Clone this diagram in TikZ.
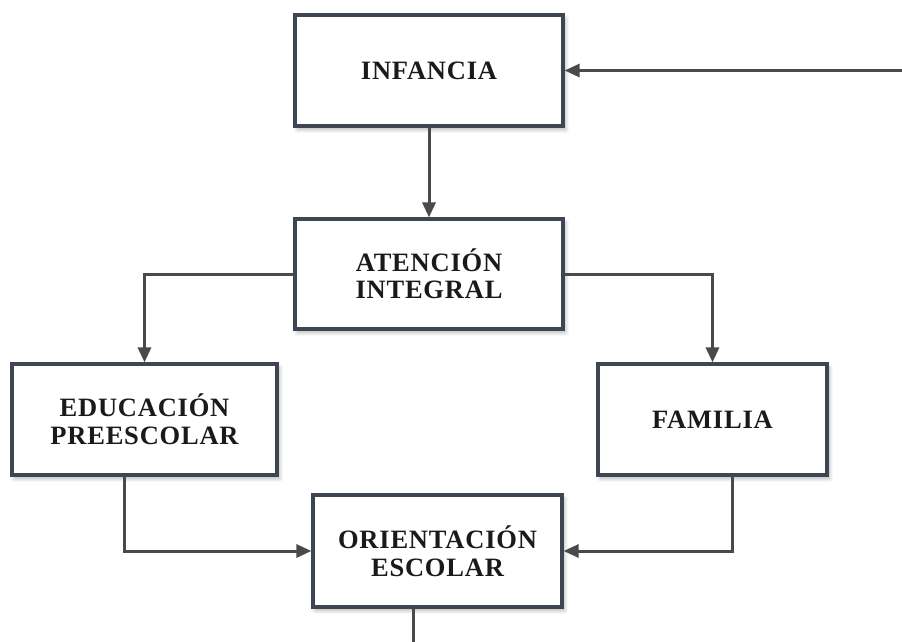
\documentclass[tikz,border=0pt]{standalone}
\usepackage{fontspec}
\setmainfont{Liberation Serif}[LetterSpace=3]
\usetikzlibrary{arrows.meta,shadows.blur,calc}
\definecolor{boxborder}{HTML}{3D4652}
\definecolor{conncol}{HTML}{4A4A4A}
\definecolor{txtcol}{HTML}{1A1A1A}
\tikzset{
  box/.style={draw=boxborder, line width=3.2pt, fill=white, align=center,
    text=txtcol, font=\fontsize{26.5}{26.5}\selectfont\bfseries, inner sep=0pt,
    blur shadow={shadow xshift=2.5pt, shadow yshift=-3.5pt, shadow blur steps=8, shadow blur radius=4pt, shadow opacity=30}},
  conn/.style={draw=conncol, line width=3pt, -{Triangle[length=15pt,width=13pt]}},
  plainline/.style={draw=conncol, line width=3pt}
}
\begin{document}
\begin{tikzpicture}[x=1pt,y=-1pt]
\useasboundingbox (0,0) rectangle (902,641);
\node[box, minimum width=268pt, minimum height=111pt] (inf) at (429,70.5) {INFANCIA};
\node[box, minimum width=268pt, minimum height=110pt] (aten) at (429,274) {ATENCIÓN\\[1pt]INTEGRAL};
\node[box, minimum width=265pt, minimum height=111pt] (edu) at (144.5,419.5) {EDUCACIÓN\\[1pt]PREESCOLAR};
\node[box, minimum width=229pt, minimum height=111pt] (fam) at (712.5,419.5) {FAMILIA};
\node[box, minimum width=249pt, minimum height=112pt] (orient) at (437.5,551) {ORIENTACIÓN\\[1pt]ESCOLAR};
\coordinate (in) at (902,70.5);
\coordinate (out) at (413,643);
\draw[conn] (in) -- (inf.east);
\draw[conn] (inf) -- (aten);
\draw[conn] (aten.west) -| (edu.north);
\draw[conn] (aten.east) -| (fam.north);
\draw[conn] ([xshift=-20.5pt]edu.south) |- (orient.west);
\draw[conn] ([xshift=19.5pt]fam.south) |- (orient.east);
\draw[plainline] (out |- orient.south) -- (out);
\end{tikzpicture}
\end{document}
